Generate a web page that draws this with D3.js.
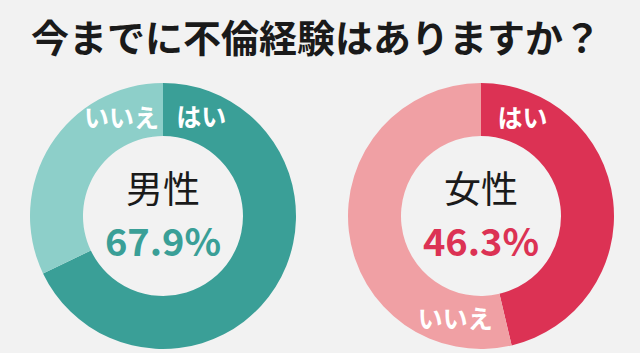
<!DOCTYPE html>
<html>
<head>
<meta charset="utf-8">
<script src="https://cdn.jsdelivr.net/npm/d3@7"></script>
<style>
  html, body { margin: 0; padding: 0; background: #f2f2f2; }
  svg { display: block; font-family: "Noto Sans CJK JP", "Noto Sans", sans-serif; }
</style>
</head>
<body>
<script>
window.onload = function(){(function(){

let title = "今までに不倫経験はありますか？";
let groups = ["男性", "女性"];
let answers = ["はい", "いいえ"];
let yesPct = [67.9, 46.3];
let colors = [["#3a9f97", "#8dcfc9"], ["#dc3254", "#f0a0a4"]];

let w = 640, h = 353;

let svg = d3.select("body").append("svg")
	.attr("width", w)
	.attr("height", h);

svg.append("rect").attr("width", w).attr("height", h).attr("fill", "#f2f2f2");

svg.append("text")
	.attr("x", w / 2 - 4)
	.attr("y", 52)
	.attr("text-anchor", "middle")
	.attr("font-size", 38)
	.attr("font-weight", 700)
	.attr("fill", "#1a1a1a")
	.text(title);

let cx = d3.scalePoint().domain(groups).range([163, 481]),
    cy = 216,
    R = 133,
    r = 80;

let pie = d3.pie().sort(null).value(function(d){ return d; });
let arc = d3.arc().innerRadius(r).outerRadius(R);

// where each answer label sits (degrees clockwise from top)
let labelAngle = [[21, -23], [23, 194]];
let labelR = (r + R) / 2;

groups.forEach(function(g, i){
	let vals = [yesPct[i], 100 - yesPct[i]];
	let gg = svg.append("g")
		.attr("transform", "translate(" + cx(g) + "," + cy + ")");

	gg.selectAll("path")
		.data(pie(vals))
		.enter().append("path")
		.attr("d", arc)
		.attr("fill", function(d, j){ return colors[i][j]; });

	gg.selectAll("text.ans")
		.data(answers)
		.enter().append("text")
		.attr("class", "ans")
		.attr("x", function(d, j){ return labelR * Math.sin(labelAngle[i][j] * Math.PI / 180); })
		.attr("y", function(d, j){ return -labelR * Math.cos(labelAngle[i][j] * Math.PI / 180); })
		.attr("dy", "0.36em")
		.attr("text-anchor", "middle")
		.attr("font-size", 25)
		.attr("font-weight", 700)
		.attr("fill", "#fff")
		.text(function(d){ return d; });

	gg.append("text")
		.attr("y", -26)
		.attr("dy", "0.36em")
		.attr("text-anchor", "middle")
		.attr("font-size", 37)
		.attr("fill", "#1a1a1a")
		.text(g);

	gg.append("text")
		.attr("y", 26)
		.attr("dy", "0.36em")
		.attr("text-anchor", "middle")
		.attr("font-size", 38)
		.attr("font-weight", 700)
		.attr("fill", colors[i][0])
		.text(yesPct[i].toFixed(1) + "%");
});

})()}
</script>
</body>
</html>
